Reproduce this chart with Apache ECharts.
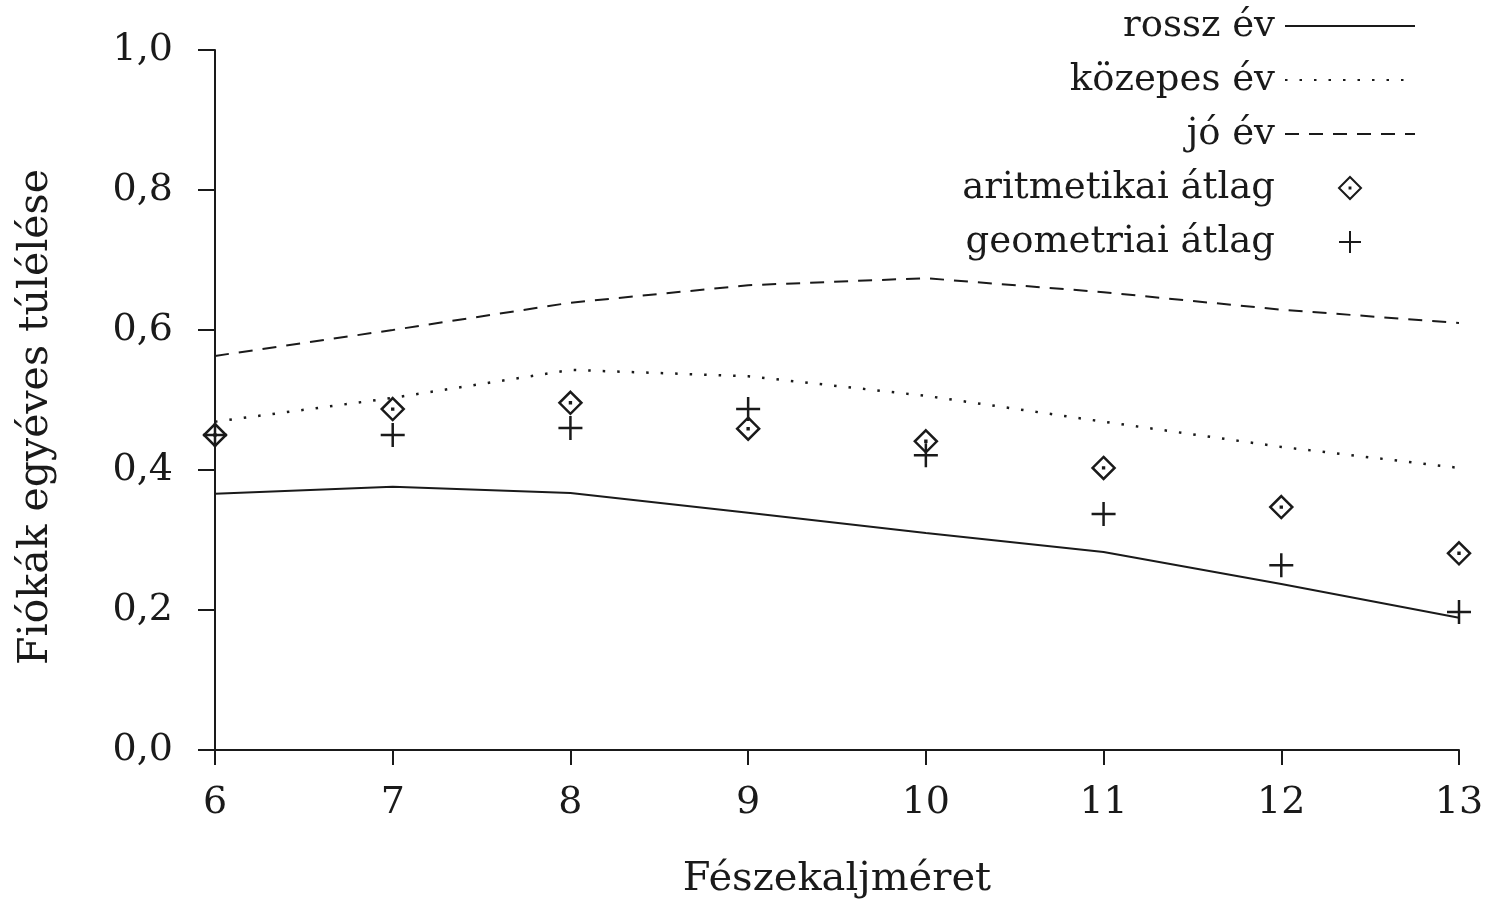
<!DOCTYPE html>
<html>
<head>
<meta charset="utf-8">
<script src="https://cdn.jsdelivr.net/npm/echarts@6/dist/echarts.min.js"></script>
<style>
  html, body { margin: 0; padding: 0; background: #fff; }
  #chart { width: 1497px; height: 913px; }
</style>
</head>
<body>
<div id="chart"></div>
<script>
// fészekaljméret (x)
const broodSizes = [6, 7, 8, 9, 10, 11, 12, 13]
// survival curves per year type
const badYear = [0.366, 0.376, 0.367, 0.339, 0.310, 0.283, 0.237, 0.189]
const mediumYear = [0.469, 0.503, 0.543, 0.534, 0.506, 0.469, 0.433, 0.403]
const goodYear = [0.563, 0.600, 0.639, 0.664, 0.674, 0.654, 0.629, 0.610]
// means
const arithMean = [0.450, 0.487, 0.496, 0.459, 0.441, 0.403, 0.347, 0.281]
const geomMean = [0.450, 0.450, 0.460, 0.487, 0.421, 0.337, 0.264, 0.197]

const FONT = '"DejaVu Serif", "Liberation Serif", serif'
const INK = '#1a1a1a'
const CLEAR = 'rgba(0,0,0,0)'

const pairs = ys => broodSizes.map((x, i) => [x, ys[i]])

const diamondPath = 'path://M10,0 L20,10 L10,20 L0,10 Z M9.6,9.6 L10.4,9.6 L10.4,10.4 L9.6,10.4 Z'
const plusPath = 'path://M10,0 L10,20 M0,10 L20,10'

// line legend entries: only the line, no symbol in the middle
const lineEntry = name => ({
  name: name,
  itemStyle: { color: CLEAR, borderColor: CLEAR, borderWidth: 0 }
})

const chart = echarts.init(document.getElementById('chart'))

const option = {
  backgroundColor: '#fff',
  animation: false,
  textStyle: { fontFamily: FONT, color: INK },
  grid: { left: 215, right: 38, top: 50, bottom: 163 },
  legend: {
    orient: 'vertical',
    align: 'right',
    right: 76,
    top: 0,
    itemWidth: 130,
    itemHeight: 22,
    itemGap: 12,
    textStyle: { fontFamily: FONT, fontSize: 37, color: INK, lineHeight: 42, padding: [0, 5, 0, 0] },
    data: [
      lineEntry('rossz év'),
      lineEntry('közepes év'),
      lineEntry('jó év'),
      'aritmetikai átlag',
      'geometriai átlag'
    ]
  },
  xAxis: {
    type: 'value',
    min: 6,
    max: 13,
    interval: 1,
    name: 'Fészekaljméret',
    nameLocation: 'middle',
    nameGap: 110,
    nameTextStyle: { fontFamily: FONT, fontSize: 40, color: INK },
    axisLine: { lineStyle: { color: INK, width: 2 } },
    axisTick: { length: 15, lineStyle: { color: INK, width: 2 } },
    axisLabel: { margin: 34, fontSize: 38, color: INK, fontFamily: FONT },
    splitLine: { show: false }
  },
  yAxis: {
    type: 'value',
    min: 0,
    max: 1,
    interval: 0.2,
    name: 'Fiókák egyéves túlélése',
    nameLocation: 'middle',
    nameGap: 158,
    nameTextStyle: { fontFamily: FONT, fontSize: 41, color: INK, padding: [0, 34, 0, 0] },
    axisLine: { show: true, lineStyle: { color: INK, width: 2 } },
    axisTick: { show: true, length: 17, lineStyle: { color: INK, width: 2 } },
    axisLabel: {
      margin: 42,
      fontSize: 38,
      color: INK,
      fontFamily: FONT,
      formatter: v => v.toFixed(1).replace('.', ',')
    },
    splitLine: { show: false }
  },
  series: [
    {
      name: 'rossz év', type: 'line', symbol: 'none',
      data: pairs(badYear),
      lineStyle: { color: INK, width: 2, type: 'solid' },
      itemStyle: { color: CLEAR }
    },
    {
      name: 'közepes év', type: 'line', symbol: 'none',
      data: pairs(mediumYear),
      lineStyle: { color: INK, width: 2.5, type: [2.5, 12] },
      itemStyle: { color: CLEAR }
    },
    {
      name: 'jó év', type: 'line', symbol: 'none',
      data: pairs(goodYear),
      lineStyle: { color: INK, width: 2, type: [14, 10] },
      itemStyle: { color: CLEAR }
    },
    {
      name: 'aritmetikai átlag', type: 'scatter',
      symbol: diamondPath, symbolSize: 22,
      data: pairs(arithMean),
      itemStyle: { color: 'none', borderColor: INK, borderWidth: 2.5, opacity: 1 }
    },
    {
      name: 'geometriai átlag', type: 'scatter',
      symbol: plusPath, symbolSize: 24,
      data: pairs(geomMean),
      itemStyle: { color: 'none', borderColor: INK, borderWidth: 2.5, opacity: 1 }
    }
  ]
}

chart.setOption(option)
</script>
</body>
</html>
